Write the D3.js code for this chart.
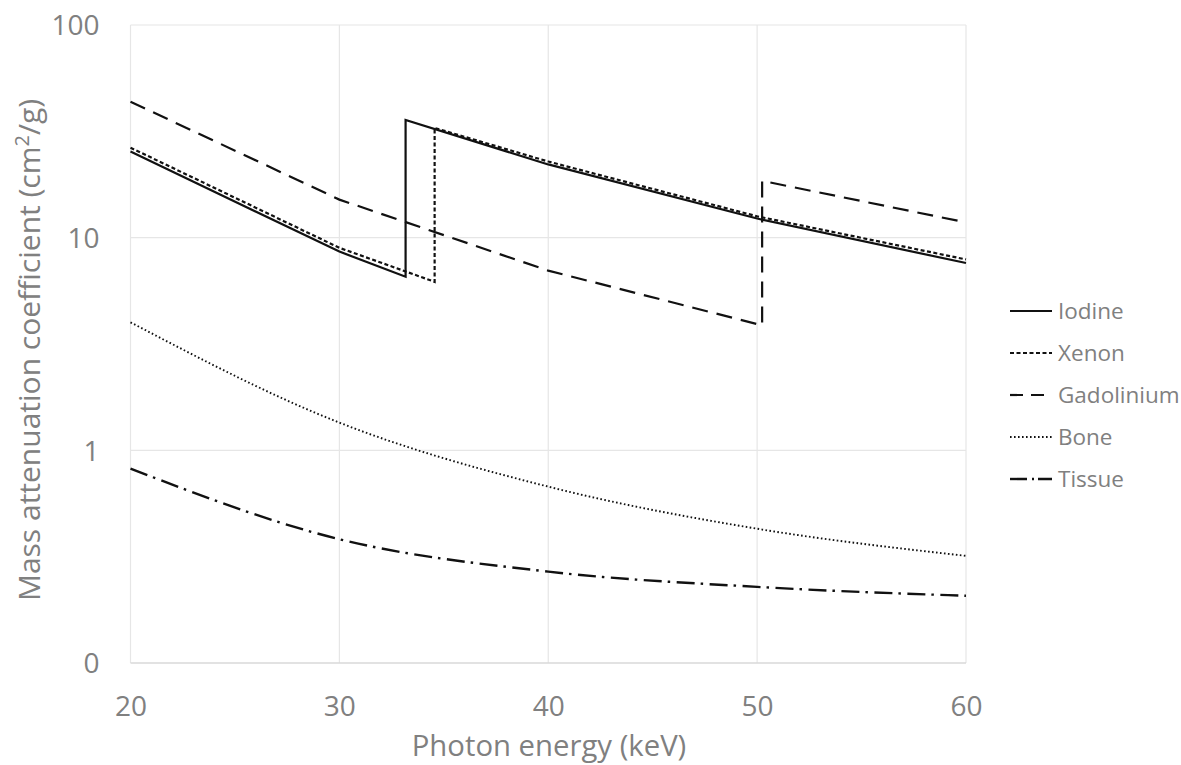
<!DOCTYPE html>
<html>
<head>
<meta charset="utf-8">
<script src="https://cdn.jsdelivr.net/npm/d3@7"></script>
<style>
  html, body { margin: 0; padding: 0; background: #fff; }
  svg { display: block; }
  text { font-family: "Open Sans", "Noto Sans", sans-serif; fill: #808080; }
</style>
</head>
<body>
<svg id="chart" width="1181" height="765"></svg>
<script>
// Mass attenuation coefficients (cm^2/g) versus photon energy (keV)
const iodineEnergy = [20, 30, 33.17, 33.17, 40, 50, 60];
const iodineValues = [25.4, 8.6, 6.55, 35.8, 22.1, 12.3, 7.6];

const xenonEnergy = [20, 30, 34.56, 34.56, 40, 50, 60];
const xenonValues = [26.5, 8.96, 6.2, 32.8, 22.8, 12.6, 7.9];

const gadoliniumEnergy = [20, 30, 40, 50.24, 50.24, 60];
const gadoliniumValues = [43.6, 15.1, 7.0, 3.87, 18.5, 11.8];

const boneEnergy = [20, 30, 40, 50, 60];
const boneValues = [4.0, 1.35, 0.675, 0.428, 0.319];

const tissueEnergy = [20, 30, 40, 50, 60];
const tissueValues = [0.82, 0.382, 0.269, 0.228, 0.207];

const xTickValues = [20, 30, 40, 50, 60];
const yTickValues = [0.1, 1, 10, 100];
const yTickLabels = ["0", "1", "10", "100"];

const seriesNames = ["Iodine", "Xenon", "Gadolinium", "Bone", "Tissue"];

const svg = d3.select("#chart");
const plotLeft = 130.5, plotRight = 966, plotTop = 25, plotBottom = 663;

const x = d3.scaleLinear().domain([20, 60]).range([plotLeft, plotRight]);
const y = d3.scaleLog().domain([0.1, 100]).range([plotBottom, plotTop]);

// gridlines
const grid = svg.append("g");
grid.selectAll("line.v").data(xTickValues).join("line")
  .attr("x1", d => x(d)).attr("x2", d => x(d))
  .attr("y1", plotTop).attr("y2", plotBottom)
  .attr("stroke", "#e6e6e6").attr("stroke-width", 1.2);
grid.selectAll("line.h").data(yTickValues.slice(1)).join("line")
  .attr("x1", plotLeft).attr("x2", plotRight)
  .attr("y1", d => y(d)).attr("y2", d => y(d))
  .attr("stroke", "#e6e6e6").attr("stroke-width", 1.2);
// horizontal axis line
svg.append("line")
  .attr("x1", plotLeft).attr("x2", plotRight).attr("y1", y(0.1)).attr("y2", y(0.1))
  .attr("stroke", "#d9d9d9").attr("stroke-width", 1.5);

// axis tick labels via d3 axes (domain and tick marks hidden)
const xAxis = d3.axisBottom(x).tickValues(xTickValues).tickSize(0).tickPadding(0)
  .tickFormat(d3.format("d"));
const gx = svg.append("g").attr("transform", `translate(0,${plotBottom})`).call(xAxis);
gx.select(".domain").remove();
gx.selectAll("text").attr("dy", null).attr("y", 53)
  .style("font-size", "28px").attr("fill", "#808080")
  .style("font-family", '"Open Sans", sans-serif');

const yAxis = d3.axisLeft(y).tickValues(yTickValues).tickSize(0).tickPadding(0)
  .tickFormat((d, i) => yTickLabels[i]);
const gy = svg.append("g").attr("transform", `translate(${plotLeft - 31},0)`).call(yAxis);
gy.select(".domain").remove();
gy.selectAll("text").attr("dy", "0.35em")
  .style("font-size", "28px").attr("fill", "#808080")
  .style("font-family", '"Open Sans", sans-serif');

// axis titles
svg.append("text")
  .attr("x", 549).attr("y", 756)
  .attr("text-anchor", "middle").style("font-size", "29.3px")
  .text("Photon energy (keV)");

const yTitle = svg.append("text")
  .attr("transform", "translate(40,350) rotate(-90)")
  .attr("text-anchor", "middle").style("font-size", "30px");
yTitle.append("tspan").text("Mass attenuation coefficient (cm");
yTitle.append("tspan").attr("dy", -11).style("font-size", "20px").text("2");
yTitle.append("tspan").attr("dy", 11).text("/g)");

// series lines
const styles = {
  Iodine:     { dash: null,           width: 2.2, smooth: false },
  Xenon:      { dash: "4,2.5",        width: 2.2, smooth: false },
  Gadolinium: { dash: "16,9",         width: 2.2, smooth: false },
  Bone:       { dash: "1.6,2.4",      width: 1.9, smooth: true },
  Tissue:     { dash: "18,6,2.5,6.5", width: 2.4, smooth: true }
};
const series = [
  { name: "Iodine", e: iodineEnergy, v: iodineValues },
  { name: "Xenon", e: xenonEnergy, v: xenonValues },
  { name: "Gadolinium", e: gadoliniumEnergy, v: gadoliniumValues },
  { name: "Bone", e: boneEnergy, v: boneValues },
  { name: "Tissue", e: tissueEnergy, v: tissueValues }
];

series.forEach(s => {
  const st = styles[s.name];
  const pts = s.e.map((e, i) => [e, s.v[i]]);
  const line = d3.line()
    .x(d => x(d[0])).y(d => y(d[1]))
    .curve(st.smooth ? d3.curveMonotoneX : d3.curveLinear);
  svg.append("path")
    .attr("d", line(pts))
    .attr("fill", "none").attr("stroke", "#111")
    .attr("stroke-width", st.width)
    .attr("stroke-dasharray", st.dash)
    .attr("stroke-linejoin", "miter");
});

// legend
const legendDash = {
  Iodine: null, Xenon: "4,2.5", Gadolinium: "13,8", Bone: "1.6,2.4", Tissue: "17,5,2,4"
};
const legendY = d3.scalePoint().domain(seriesNames).range([311, 479]);
const legend = svg.append("g");
seriesNames.forEach(name => {
  const st = styles[name];
  const yy = legendY(name);
  legend.append("line")
    .attr("x1", 1010).attr("x2", 1052).attr("y1", yy).attr("y2", yy)
    .attr("stroke", "#111").attr("stroke-width", st.width)
    .attr("stroke-dasharray", legendDash[name]);
  legend.append("text")
    .attr("x", 1058).attr("y", yy).attr("dy", "0.35em")
    .style("font-size", "22.5px").text(name);
});
</script>
</body>
</html>
